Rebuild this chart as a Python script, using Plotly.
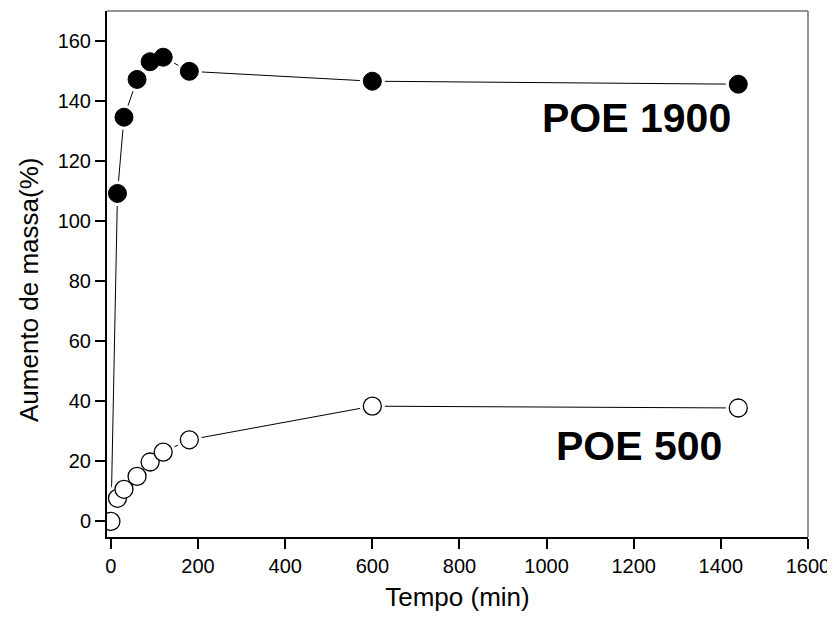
import plotly.graph_objects as go

time_1900 = [0, 15, 30, 60, 90, 120, 180, 600, 1440]
mass_1900 = [0, 109.3, 134.7, 147.3, 153.2, 154.7, 150.0, 146.7, 145.7]
time_500 = [0, 15, 30, 60, 90, 120, 180, 600, 1440]
mass_500 = [0, 7.7, 10.7, 15.0, 19.8, 23.1, 27.2, 38.4, 37.8]
x_ticks = [0, 200, 400, 600, 800, 1000, 1200, 1400, 1600]
y_ticks = [0, 20, 40, 60, 80, 100, 120, 140, 160]

FONT = "Liberation Sans, Arial, sans-serif"
fig = go.Figure()

# connecting lines
for xs, ys in [(time_1900, mass_1900), (time_500, mass_500)]:
    fig.add_trace(go.Scatter(x=xs, y=ys, mode="lines",
                             line=dict(color="black", width=1), showlegend=False,
                             hoverinfo="skip"))
# white halos
for xs, ys in [(time_1900, mass_1900), (time_500, mass_500)]:
    fig.add_trace(go.Scatter(x=xs, y=ys, mode="markers",
                             marker=dict(size=25, color="white", line=dict(width=0)),
                             showlegend=False, hoverinfo="skip"))
# markers
fig.add_trace(go.Scatter(x=time_1900[1:], y=mass_1900[1:], mode="markers", name="POE 1900",
                         marker=dict(size=18, color="black", line=dict(color="black", width=1)),
                         showlegend=False))
fig.add_trace(go.Scatter(x=time_500, y=mass_500, mode="markers", name="POE 500",
                         marker=dict(size=18, color="white", line=dict(color="black", width=1.3)),
                         showlegend=False))

fig.add_annotation(x=1207, y=134.5, text="<b>POE 1900</b>", showarrow=False,
                   xanchor="center", yanchor="middle",
                   font=dict(family=FONT, size=41, color="black"))
fig.add_annotation(x=1213, y=25.0, text="<b>POE 500</b>", showarrow=False,
                   xanchor="center", yanchor="middle",
                   font=dict(family=FONT, size=41, color="black"))

# y-axis title as annotation (positioned as in reference)
fig.add_annotation(xref="paper", yref="paper", x=-0.111, y=0.47, text="Aumento de massa(%)",
                   textangle=-90, showarrow=False, xanchor="center", yanchor="middle",
                   font=dict(family=FONT, size=26, color="black"))

# top/right frame in gray
fig.add_shape(type="line", xref="paper", yref="paper", x0=0, x1=1, y0=1, y1=1,
              line=dict(color="#707070", width=1.5))
fig.add_shape(type="line", xref="paper", yref="paper", x0=1, x1=1, y0=0, y1=1,
              line=dict(color="#707070", width=1.5))

fig.update_layout(
    width=827, height=613,
    margin=dict(l=99, r=27, t=3, b=84),
    paper_bgcolor="white", plot_bgcolor="white",
    font=dict(family=FONT, color="black"),
    xaxis=dict(range=[-9, 1600], tickvals=x_ticks, ticktext=[str(v) for v in x_ticks],
               showgrid=False, zeroline=False, showline=True, linecolor="black",
               linewidth=2, ticks="outside", ticklen=10, tickwidth=2, tickcolor="black",
               tickfont=dict(size=20, family=FONT),
               title=dict(text="Tempo (min)", font=dict(size=26, family=FONT), standoff=12)),
    yaxis=dict(range=[-5.2, 170.1], tickvals=y_ticks, ticktext=[str(v) for v in y_ticks],
               showgrid=False, zeroline=False, showline=True, linecolor="black",
               linewidth=2, ticks="outside", ticklen=10, tickwidth=2, tickcolor="black",
               tickfont=dict(size=20, family=FONT)),
)

fig.write_html("out.html")
